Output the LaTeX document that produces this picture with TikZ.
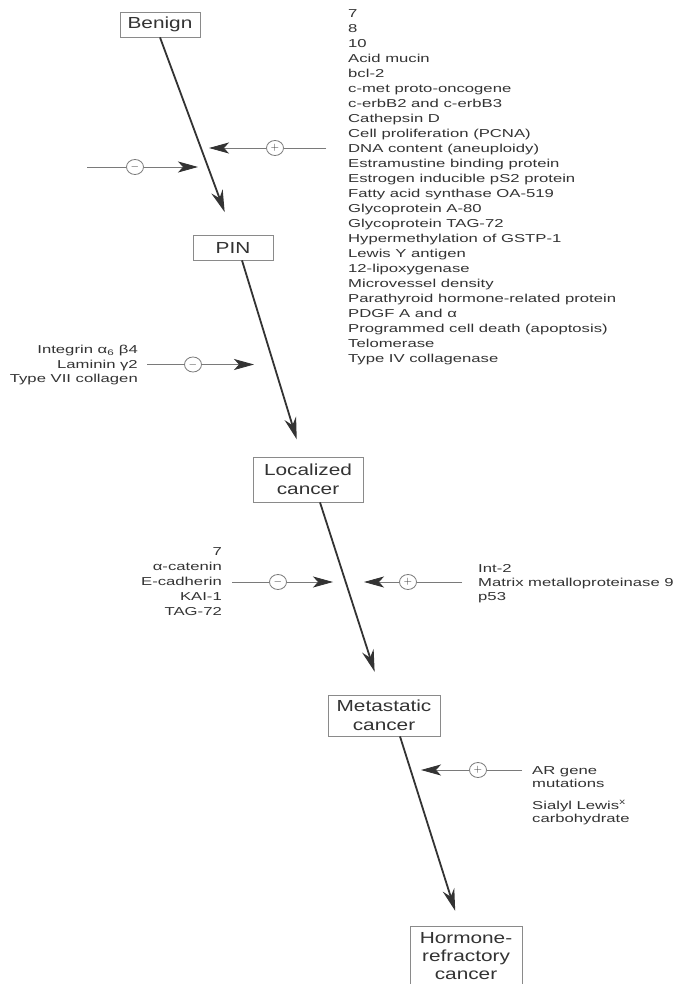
\documentclass[tikz,border=0pt]{standalone}
\usepackage{fontspec}
\setmainfont{Liberation Sans}
\newfontfamily\boxfont[FakeStretch=1.3]{Liberation Sans}
\newfontfamily\listfont[FakeStretch=1.45]{Liberation Sans}
\usetikzlibrary{arrows.meta,shapes.geometric}
\definecolor{ink}{HTML}{333333}
\definecolor{lineg}{HTML}{7A7A7A}
\definecolor{boxg}{HTML}{8A8A8A}
\tikzset{
  stagebox/.style={draw=boxg, line width=0.8pt, text=ink, align=center, inner sep=0pt,
    font=\boxfont\fontsize{16}{19}\selectfont},
  mainarrow/.style={draw=ink, line width=1.8pt, -{Stealth[length=22pt,width=12pt]}},
  sideline/.style={draw=lineg, line width=0.8pt},
  sidearrow/.style={draw=lineg, line width=0.8pt, -{Stealth[length=20pt,width=11pt,inset=5pt,color=ink]}},
  signnode/.style={draw=lineg, line width=0.8pt, ellipse, minimum width=17pt, minimum height=15pt,
    inner sep=0pt, text=ink, font=\fontsize{11}{11}\selectfont},
  listtext/.style={text=ink, inner sep=0pt, font=\listfont\fontsize{11.5}{15}\selectfont},
}
\begin{document}
\begin{tikzpicture}[x=1pt,y=-1pt]
\useasboundingbox[fill=white] (0,0) rectangle (672,984);

% stage boxes
\node[stagebox, minimum width=80pt, minimum height=25pt] (benign) at (160,24.5) {Benign};
\node[stagebox, minimum width=80pt, minimum height=25pt] (pin) at (233,247.5) {PIN};
\node[stagebox, minimum width=110pt, minimum height=45pt] (local) at (308,479.5) {Localized\\cancer};
\node[stagebox, minimum width=112pt, minimum height=41pt] (meta) at (384,715.5) {Metastatic\\cancer};
\node[stagebox, minimum width=112pt, minimum height=60pt, font=\boxfont\fontsize{16}{18}\selectfont] (horm) at (466,956.5) {Hormone-\\refractory\\cancer};

% main progression arrows
\draw[mainarrow, shorten >=24pt] (benign.south) -- (pin.north);
\draw[mainarrow, shorten >=18pt] ([xshift=9pt]pin.south) -- ([xshift=-6pt]local.north);
\draw[mainarrow, shorten >=24pt] ([xshift=12pt]local.south) -- ([xshift=-2pt]meta.north);
\draw[mainarrow, shorten >=16pt] ([xshift=16pt]meta.south) -- ([xshift=-6pt]horm.north);

% Benign -> PIN : negative (left)
\coordinate (m1s) at (87,167);
\node[signnode] (m1c) at (135,167) {$-$};
\coordinate (m1t) at (198,167);
\draw[sideline] (m1s) -- (m1c);
\draw[sidearrow] (m1c) -- (m1t);

% Benign -> PIN : positive (right)
\coordinate (p1s) at (326,148);
\node[signnode] (p1c) at (275,148) {$+$};
\coordinate (p1t) at (209,148);
\draw[sideline] (p1s) -- (p1c);
\draw[sidearrow] (p1c) -- (p1t);

\node[listtext, anchor=north west, align=left] (plist) at (348,9.5) {7\\8\\10\\Acid mucin\\bcl-2\\c-met proto-oncogene\\c-erbB2 and c-erbB3\\Cathepsin D\\Cell proliferation (PCNA)\\DNA content (aneuploidy)\\Estramustine binding protein\\Estrogen inducible pS2 protein\\Fatty acid synthase OA-519\\Glycoprotein A-80\\Glycoprotein TAG-72\\Hypermethylation of GSTP-1\\Lewis Y antigen\\12-lipoxygenase\\Microvessel density\\Parathyroid hormone-related protein\\PDGF A and α\\Programmed cell death (apoptosis)\\Telomerase\\Type IV collagenase};

% PIN -> Localized : negative
\node[listtext, anchor=north east, align=right, font=\listfont\fontsize{11.5}{14.5}\selectfont] (ilist) at (138,345) {Integrin α\textsubscript{6} β4\\Laminin γ2\\Type VII collagen};
\coordinate (m2s) at (147,364.5);
\node[signnode] (m2c) at (193,364.5) {$-$};
\coordinate (m2t) at (254,364.5);
\draw[sideline] (m2s) -- (m2c);
\draw[sidearrow] (m2c) -- (m2t);

% Localized -> Metastatic : negative
\node[listtext, anchor=north east, align=right] (elist) at (222,547) {7\\α-catenin\\E-cadherin\\KAI-1\\TAG-72};
\coordinate (m3s) at (232,582);
\node[signnode] (m3c) at (278,582) {$-$};
\coordinate (m3t) at (333,582);
\draw[sideline] (m3s) -- (m3c);
\draw[sidearrow] (m3c) -- (m3t);

% Localized -> Metastatic : positive
\node[listtext, anchor=north west, align=left, font=\listfont\fontsize{11.5}{14}\selectfont] (ilist2) at (478,564) {Int-2\\Matrix metalloproteinase 9\\p53};
\coordinate (p3s) at (462,582);
\node[signnode] (p3c) at (408,582) {$+$};
\coordinate (p3t) at (364,582);
\draw[sideline] (p3s) -- (p3c);
\draw[sidearrow] (p3c) -- (p3t);

% Metastatic -> Hormone-refractory : positive
\node[listtext, anchor=north west, align=left, font=\listfont\fontsize{11.5}{13}\selectfont] (arlist) at (532,766) {AR gene\\mutations\\[9pt]Sialyl Lewis\textsuperscript{x}\\carbohydrate};
\coordinate (p4s) at (522,770);
\node[signnode] (p4c) at (478,770) {$+$};
\coordinate (p4t) at (421,770);
\draw[sideline] (p4s) -- (p4c);
\draw[sidearrow] (p4c) -- (p4t);
\end{tikzpicture}
\end{document}
